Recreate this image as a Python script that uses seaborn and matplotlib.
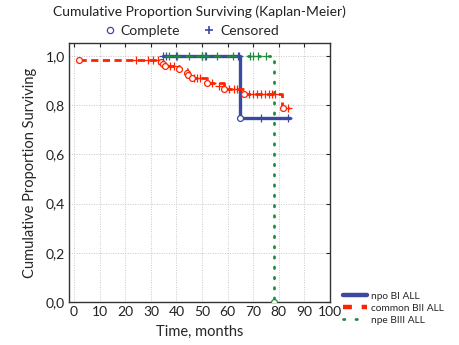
import numpy as np
import pandas as pd
import matplotlib
matplotlib.use("Agg")
import matplotlib.pyplot as plt
import seaborn as sns
from matplotlib.lines import Line2D

sns.set_style("white")
plt.rcParams['font.family'] = ['Lato', 'DejaVu Sans']

# ---------------- data ----------------
series_names = ["npo BI ALL", "common BII ALL", "npe BIII ALL"]

# step curves (time, survival)
blue_t = [34.6, 65.0, 84.2]
blue_s = [1.0, 0.75, 0.75]
red_t = [2.0, 34.0, 34.6, 35.7, 40.8, 44.0, 44.7, 46.0, 52.0, 58.4, 66.2, 81.3, 84.0]
red_s = [0.985, 0.975, 0.967, 0.959, 0.947, 0.93, 0.922, 0.91, 0.89, 0.865, 0.845, 0.788, 0.788]
green_t = [36.0, 78.0]
green_s = [1.0, 0.0]

# complete (event) observations
blue_complete_t = [65.0]
blue_complete_s = [0.75]
red_complete_t = [2.0, 34.0, 34.6, 35.7, 40.8, 44.0, 44.7, 46.0, 52.0, 58.4, 66.2, 81.6]
red_complete_s = [0.985, 0.975, 0.967, 0.959, 0.947, 0.93, 0.922, 0.91, 0.89, 0.865, 0.845, 0.788]
green_complete_t = [78.0]
green_complete_s = [0.0]

# censored observations
blue_cens_t = [34.6, 36.0, 40.0, 50.0, 51.6, 63.9, 64.6, 73.0, 83.4]
blue_cens_s = [1.0, 1.0, 1.0, 1.0, 1.0, 1.0, 1.0, 0.75, 0.75]
red_cens_t = [24.0, 29.0, 31.0, 32.6, 37.3, 38.9, 47.0, 48.0, 49.0, 54.0, 56.6,
              60.7, 62.3, 63.5, 68.5, 70.0, 71.5, 73.0, 74.5, 76.0, 77.5, 78.5, 83.4]
red_cens_s = [0.985, 0.985, 0.985, 0.985, 0.959, 0.959, 0.91, 0.91, 0.91, 0.89, 0.88,
              0.865, 0.865, 0.865, 0.845, 0.845, 0.845, 0.845, 0.845, 0.845, 0.845, 0.845, 0.788]
green_cens_t = [37.0, 40.4, 45.0, 50.0, 51.0, 56.0, 62.0, 68.6, 69.8, 71.7, 75.0]
green_cens_s = [1.0] * 11

x_ticks = list(range(0, 101, 10))
y_ticks = [0.0, 0.2, 0.4, 0.6, 0.8, 1.0]
y_tick_labels = ["0,0", "0,2", "0,4", "0,6", "0,8", "1,0"]

# ---------------- styles ----------------
c_blue = "#3b4a9e"
c_red = "#ff2200"
c_green = "#1e8c3c"

fig = plt.figure(figsize=(4.59, 3.45), dpi=100)
ax = fig.add_axes([69/459, 1-302/345, (330-69)/459, (302-43)/345])

red_dash = (0, (2.6, 1.6))
green_dot = (0, (0.5, 3.2))

sns.lineplot(x=green_t, y=green_s, ax=ax, color=c_green, lw=2.0,
             drawstyle="steps-post", estimator=None, sort=False,
             linestyle=green_dot, dash_capstyle="round", zorder=4)
sns.lineplot(x=blue_t, y=blue_s, ax=ax, color=c_blue, lw=2.4,
             drawstyle="steps-post", estimator=None, sort=False, zorder=3)
sns.lineplot(x=red_t, y=red_s, ax=ax, color=c_red, lw=2.0,
             drawstyle="steps-post", estimator=None, sort=False,
             linestyle=red_dash, zorder=3)

for tt, ss, c in [(blue_cens_t, blue_cens_s, c_blue),
                  (red_cens_t, red_cens_s, c_red),
                  (green_cens_t, green_cens_s, c_green)]:
    sns.scatterplot(x=tt, y=ss, ax=ax, marker="+", color=c, s=26,
                    linewidth=0.9, zorder=5)
for tt, ss, c in [(blue_complete_t, blue_complete_s, c_blue),
                  (red_complete_t, red_complete_s, c_red),
                  (green_complete_t, green_complete_s, c_green)]:
    sns.scatterplot(x=tt, y=ss, ax=ax, marker="o", s=18, facecolor="white",
                    edgecolor=c, linewidth=0.9, zorder=6)

ax.set_xlim(-2, 100)
ax.set_ylim(0, 1.053)
ax.set_xticks(x_ticks)
ax.set_xticklabels([str(v) for v in x_ticks])
ax.set_yticks(y_ticks)
ax.set_yticklabels(y_tick_labels)
ax.grid(True, color="#c8c8c8", linestyle=(0, (1, 1.5)), linewidth=0.7)
ax.set_axisbelow(True)
ax.tick_params(direction="in", length=3, width=0.8, top=True, right=True,
               labelsize=10, pad=3, colors="#222222")
for sp in ax.spines.values():
    sp.set_color("#333333")
    sp.set_linewidth(1.0)

ax.set_xlabel("Time, months", fontsize=10.5, labelpad=5)
ax.set_ylabel("Cumulative Proportion Surviving", fontsize=10.5, labelpad=6)

fig.text(199.5/459, 1-12/345, "Cumulative Proportion Surviving (Kaplan-Meier)",
         ha="center", va="center", fontsize=10, color="#222222")

top_handles = [Line2D([], [], ls="none", marker="o", mfc="white", mec=c_blue,
                      ms=4.5, mew=0.9),
               Line2D([], [], ls="none", marker="+", color=c_blue, ms=6, mew=1.2)]
fig.legend(top_handles, ["Complete", "Censored"], loc="center",
           bbox_to_anchor=(191/459, 1-31/345), ncol=2, frameon=False,
           fontsize=10, handlelength=1.0, handletextpad=0.3, columnspacing=1.6)

leg_handles = [Line2D([], [], color=c_blue, lw=3.2),
               Line2D([], [], color=c_red, lw=3.2, ls=(0, (2.0, 2.2))),
               Line2D([], [], color=c_green, lw=2.0, ls=(0, (0.5, 4.0)),
                      dash_capstyle="round")]
fig.legend(leg_handles, series_names, loc="lower left",
           bbox_to_anchor=(343/459, 1-325/345), frameon=False, fontsize=7.3,
           handlelength=2.4, handletextpad=0.4, labelspacing=0.3,
           borderaxespad=0, borderpad=0)

fig.savefig("out.png", dpi=100)
